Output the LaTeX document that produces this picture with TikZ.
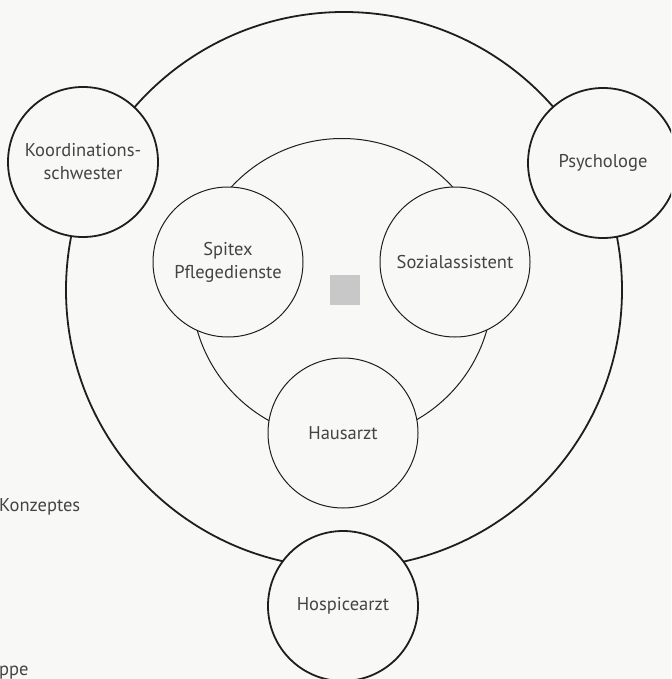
\documentclass[tikz,border=0pt]{standalone}
\usepackage{fontspec}
\setmainfont{PT Sans}
\definecolor{paper}{HTML}{F8F8F6}
\definecolor{ink}{HTML}{1E1E1E}
\definecolor{txt}{HTML}{444444}
\definecolor{sq}{HTML}{C8C8C8}
\tikzset{
  lab/.style={text=txt, font=\fontsize{18.5}{23}\selectfont, align=center},
  ring/.style={circle, draw=ink, inner sep=0pt, outer sep=0pt},
  bigring/.style={ring, line width=1.8pt},
  outerrole/.style={ring, line width=1.8pt, fill=paper, minimum size=150pt, lab},
  innerrole/.style={ring, line width=1pt, fill=paper, minimum size=150pt, lab},
  pagetext/.style={text=txt, font=\fontsize{18.5}{23}\selectfont, inner sep=0pt, anchor=base west}
}
\begin{document}
\begin{tikzpicture}[x=1pt,y=-1pt]
\useasboundingbox (0,0) rectangle (671,679);
\fill[paper] (0,0) rectangle (671,679);
\clip (0,0) rectangle (671,679);
% large circles
\node[bigring, minimum size=556pt] (outer) at (344,290) {};
\node[ring, line width=1pt, minimum size=301pt] (inner) at (342,289) {};
% roles on the inner circle
\node[innerrole] (spitex) at (228,262) {Spitex\\Pflegedienste};
\node[innerrole] (sozial) at (455,262) {Sozialassistent};
\node[innerrole] (haus) at (343,433) {Hausarzt};
% roles on the outer circle
\node[outerrole] (koord) at (83,162) {Koordinations-\\schwester};
\node[outerrole] (psych) at (603,163) {Psychologe};
\node[outerrole] (hospice) at (343,606) {Hospicearzt};
% centre square
\node[fill=sq, minimum size=30pt, inner sep=0pt] (centre) at (345,290) {};
% page text
\node[pagetext] (konz) at (-1,511) {Konzeptes};
\node[pagetext] (ppe) at (-1,675) {ppe};
\end{tikzpicture}
\end{document}
